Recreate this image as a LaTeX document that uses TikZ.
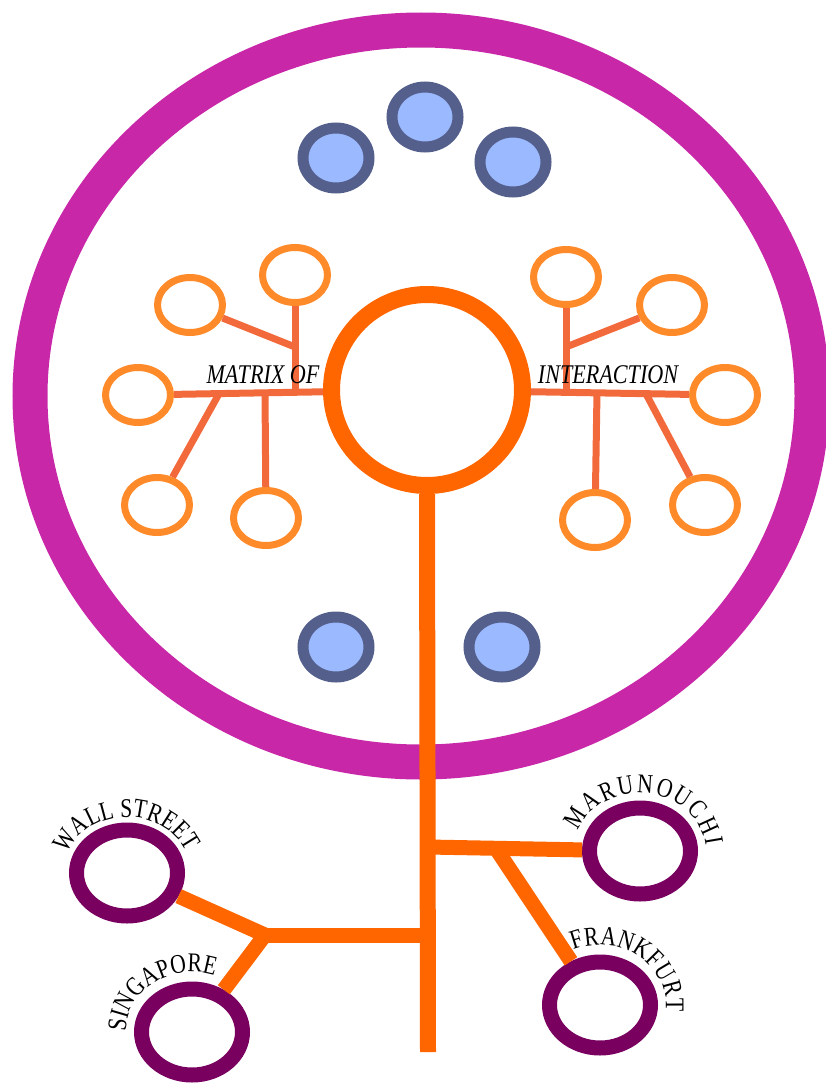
\documentclass[tikz,border=0pt]{standalone}
\usepackage{fontspec}
\setmainfont{Liberation Serif}
\newfontfamily\cityfont[FakeStretch=0.8]{Liberation Serif}
\newfontfamily\matrixfont[FakeStretch=0.82]{Liberation Serif Italic}
\usetikzlibrary{shapes.geometric,positioning,decorations.text}
\definecolor{ringmag}{RGB}{200,40,168}
\definecolor{huborange}{RGB}{255,102,0}
\definecolor{leaforange}{RGB}{255,138,42}
\definecolor{twigred}{RGB}{242,106,60}
\definecolor{cellblue}{RGB}{155,185,255}
\definecolor{cellrim}{RGB}{85,95,140}
\definecolor{citypurple}{RGB}{122,0,96}
\newcommand\citylabel{\cityfont\fontsize{27}{27}\selectfont}

\begin{document}
\begin{tikzpicture}[x=1pt,y=1pt,
    cell/.style={draw=cellrim,fill=cellblue,line width=11pt,ellipse,inner sep=0pt,minimum width=66pt,minimum height=60pt},
    leaf/.style={draw=leaforange,fill=white,line width=7pt,ellipse,inner sep=0pt,minimum width=65pt,minimum height=55pt},
    city/.style={draw=citypurple,fill=white,line width=15pt,ellipse,inner sep=0pt,minimum width=101pt,minimum height=86pt},
    twig/.style={draw=twigred,line width=7pt},
    limb/.style={draw=huborange,line width=15pt},
    tag/.style={font=\matrixfont\fontsize{27}{27}\selectfont,anchor=base,inner sep=0pt},
    arctext/.style={decorate,decoration={text along path,text align=fit to path,text={|\citylabel|#1}}}]
        \useasboundingbox (0,0) rectangle (825,-1084);
        % Outer ring
        \draw[ringmag,line width=35pt] (421,-396) ellipse[x radius=391,y radius=366];

        % Cells
        \node[cell] (c1) at (336,-158) {};
        \node[cell] (c2) at (425,-117) {};
        \node[cell] (c3) at (513,-162) {};
        \node[cell] (c4) at (336,-647) {};
        \node[cell] (c5) at (502,-647) {};

        % Hub and stem
        \node[draw=huborange,line width=17pt,circle,inner sep=0pt,minimum size=191pt] (hub) at (427,-390) {};
        \coordinate (foot) at (428,-1052);
        \coordinate (lj) at (428,-935);
        \coordinate (rj) at (428,-847);
        \draw[limb,line width=16pt] (hub.south) -- (foot);

        % Left cluster
        \node[leaf] (l1) at (190,-305) {};
        \node[leaf] (l2) at (295,-275) {};
        \node[leaf] (l3) at (138,-395) {};
        \node[leaf] (l4) at (157,-505) {};
        \node[leaf] (l5) at (266,-518) {};
        \coordinate (la) at (295,-392);
        \coordinate (lb) at (295,-347);
        \coordinate (lc) at (265,-392);
        \coordinate (ld) at (220,-392);
        \draw[twig] (l3) -- (hub);
        \draw[twig] (la) -- (l2);
        \draw[twig] (lb) -- (l1);
        \draw[twig] (lc) -- (l5);
        \draw[twig] (ld) -- (l4);
        \node[tag] (mtx) at (263,-383) {MATRIX OF};

        % Right cluster
        \node[leaf] (r1) at (566,-277) {};
        \node[leaf] (r2) at (672,-305) {};
        \node[leaf] (r3) at (725,-395) {};
        \node[leaf] (r4) at (705,-505) {};
        \node[leaf] (r5) at (595,-520) {};
        \coordinate (ra) at (566,-392);
        \coordinate (rb) at (566,-347);
        \coordinate (rc) at (597,-392);
        \coordinate (rd) at (645,-392);
        \draw[twig] (hub) -- (r3);
        \draw[twig] (ra) -- (r1);
        \draw[twig] (rb) -- (r2);
        \draw[twig] (rc) -- (r5);
        \draw[twig] (rd) -- (r4);
        \node[tag] (ict) at (608,-383) {INTERACTION};

        % Cities
        \node[city] (ws) at (127,-873) {};
        \node[city] (sg) at (192,-1032) {};
        \node[city] (mr) at (640,-851) {};
        \node[city] (fr) at (600,-1005) {};
        \coordinate (wj) at (265,-935);
        \coordinate (fj) at (495,-847);
        \draw[limb] (lj) -- (wj);
        \draw[limb] (wj) -- (ws);
        \draw[limb] (wj) -- (sg);
        \draw[limb] (rj) -- (mr);
        \draw[limb] (fj) -- (fr);

        % City names
        \path[arctext={WALL STREET}] ([shift={(160:64 and 56)}]ws.center) arc[start angle=160,end angle=22,x radius=64,y radius=56];
        \path[arctext={MARUNOUCHI}] ([shift={(160:66 and 58)}]mr.center) arc[start angle=160,end angle=5,x radius=66,y radius=58];
        \path[arctext={SINGAPORE}] ([shift={(180:66 and 60)}]sg.center) arc[start angle=180,end angle=70,x radius=66,y radius=60];
        \path[arctext={FRANKFURT}] ([shift={(114:66 and 60)}]fr.center) arc[start angle=114,end angle=-6,x radius=66,y radius=60];
    \end{tikzpicture}
\end{document}
